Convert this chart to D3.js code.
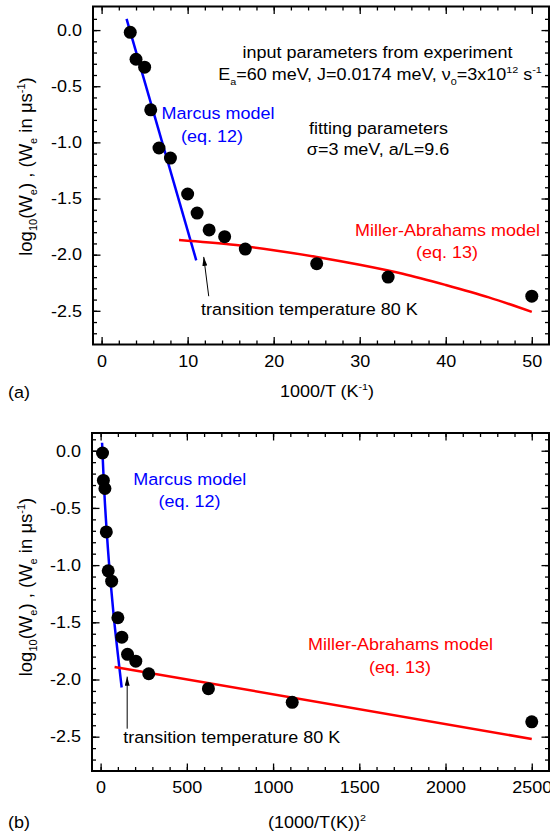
<!DOCTYPE html>
<html>
<head>
<meta charset="utf-8">
<script src="https://cdn.jsdelivr.net/npm/d3@7"></script>
<style>
  body { margin: 0; background: #fff; }
  svg { display: block; }
  text { font-family: 'Liberation Sans', Arial, Helvetica, sans-serif; }
</style>
</head>
<body>
<svg id="chart" width="550" height="833"></svg>
<script>
// values
var invT   = [3.33, 4.0, 5.0, 5.71, 6.67, 8.0, 10.0, 11.1, 12.5, 14.3, 16.7, 25.0, 33.3, 50.0];
var invT2  = [11, 16, 25, 33, 44, 64, 100, 123, 156, 204, 279, 625, 1111, 2500];
var logW   = [-0.02, -0.26, -0.33, -0.71, -1.05, -1.14, -1.46, -1.63, -1.78, -1.84, -1.95, -2.08, -2.20, -2.37];

// model curves, panel (a)
var marcusAx = [2.9, 11.0];
var marcusAy = [0.10, -2.05];
var millerAx = [9, 15, 20, 25, 30, 35, 40, 45, 50];
var millerAy = [-1.87, -1.91, -1.96, -2.02, -2.09, -2.17, -2.27, -2.38, -2.51];

// model curves, panel (b)
var marcusBx = [8.4, 16, 25, 36, 49, 64, 81, 100, 122];
var marcusBy = [0.07, -0.19, -0.46, -0.72, -0.99, -1.25, -1.52, -1.78, -2.07];
var millerBx = [81, 2500];
var millerBy = [-1.89, -2.52];

var yTicks  = [0, -0.5, -1.0, -1.5, -2.0, -2.5];
var xTicksA = [0, 10, 20, 30, 40, 50];
var xTicksB = [0, 500, 1000, 1500, 2000, 2500];

var SX = 1.09, FS = 16.5;   // the original figure is stretched horizontally a bit
var svg = d3.select("#chart");

svg.append("defs").append("marker")
    .attr("id", "arrow")
    .attr("viewBox", "0 0 9 5")
    .attr("refX", 9).attr("refY", 2.5)
    .attr("markerUnits", "userSpaceOnUse")
    .attr("markerWidth", 9).attr("markerHeight", 5)
    .attr("orient", "auto")
  .append("path")
    .attr("d", "M0,0L9,2.5L0,5Z")
    .attr("fill", "#000");

// text with sub/superscripts: parts = [[str, ""|"sub"|"sup"], ...]
function txt(parent, x, y, anchor, color, parts) {
  var size = FS;
  var t = parent.append("text")
      .attr("transform", "translate(" + x + "," + y + ") scale(" + SX + ",1)")
      .attr("text-anchor", anchor)
      .attr("fill", color)
      .attr("font-size", size);
  var shift = 0;
  parts.forEach(function(p) {
    var want = p[1] == "sub" ? size * 0.28 : (p[1] == "sup" ? -size * 0.4 : 0);
    var s = t.append("tspan").text(p[0]).attr("dy", want - shift);
    if (p[1]) s.attr("font-size", size * 0.6);
    shift = want;
  });
  return t;
}

function lineOf(xs, ys) {
  return xs.map(function(d, i) { return [d, ys[i]]; });
}

function drawPanel(o) {
  var x = d3.scaleLinear().domain(o.xDom).range([o.left, o.right]);
  var y = d3.scaleLinear().domain(o.yDom).range([o.bottom, o.top]);
  var g = svg.append("g");

  var yMinor = d3.range(-27, 3).map(function(d) { return d / 10; })
      .filter(function(d) { return y(d) > o.top + 3 && y(d) < o.bottom - 3; });

  function clean(sel) {
    sel.select(".domain").remove();
    sel.attr("font-family", null).attr("font-size", FS);
    sel.selectAll("line").attr("stroke", "#000").attr("stroke-width", 1.3);
  }

  // bottom
  g.append("g").attr("transform", "translate(0," + o.bottom + ")")
      .call(d3.axisBottom(x).tickValues(o.xMinor).tickSize(-4).tickFormat("")).call(clean);
  var bx = g.append("g").attr("transform", "translate(0," + o.bottom + ")")
      .call(d3.axisBottom(x).tickValues(o.xMajor).tickSizeInner(-7.5).tickSizeOuter(0)
        .tickPadding(10.5).tickFormat(d3.format("d"))).call(clean);
  bx.selectAll("text").attr("transform", "scale(" + SX + ",1)").attr("fill", "#000");

  // top
  g.append("g").attr("transform", "translate(0," + o.top + ")")
      .call(d3.axisTop(x).tickValues(o.xMinor).tickSize(-4).tickFormat("")).call(clean);
  g.append("g").attr("transform", "translate(0," + o.top + ")")
      .call(d3.axisTop(x).tickValues(o.xMajor).tickSize(-7.5).tickFormat("")).call(clean);

  // left
  g.append("g").attr("transform", "translate(" + o.left + ",0)")
      .call(d3.axisLeft(y).tickValues(yMinor).tickSize(-4).tickFormat("")).call(clean);
  var ly = g.append("g").attr("transform", "translate(" + o.left + ",0)")
      .call(d3.axisLeft(y).tickValues(yTicks).tickSizeInner(-7.5).tickSizeOuter(0)
        .tickPadding(10).tickFormat(function(d) { return d.toFixed(1); })).call(clean);
  ly.selectAll("text").attr("transform", "scale(" + SX + ",1)").attr("fill", "#000");

  // right
  g.append("g").attr("transform", "translate(" + o.right + ",0)")
      .call(d3.axisRight(y).tickValues(yMinor).tickSize(-4).tickFormat("")).call(clean);
  g.append("g").attr("transform", "translate(" + o.right + ",0)")
      .call(d3.axisRight(y).tickValues(yTicks).tickSize(-7.5).tickFormat("")).call(clean);

  g.append("rect")
      .attr("x", o.left).attr("y", o.top)
      .attr("width", o.right - o.left).attr("height", o.bottom - o.top)
      .attr("fill", "none").attr("stroke", "#000").attr("stroke-width", 2);

  var line = d3.line().curve(d3.curveCatmullRom)
      .x(function(d) { return x(d[0]); }).y(function(d) { return y(d[1]); });

  g.append("path").datum(lineOf(o.marcusX, o.marcusY))
      .attr("d", line).attr("fill", "none").attr("stroke", "#0000ff").attr("stroke-width", 2.5);
  g.append("path").datum(lineOf(o.millerX, o.millerY))
      .attr("d", line).attr("fill", "none").attr("stroke", "#ff0000").attr("stroke-width", 2.5);

  g.selectAll("circle.pt").data(lineOf(o.px, logW)).enter().append("circle")
      .attr("class", "pt")
      .attr("cx", function(d) { return x(d[0]); })
      .attr("cy", function(d) { return y(d[1]); })
      .attr("r", 6.5)
      .attr("fill", "#000");

  g.append("line")
      .attr("x1", x(o.arrow[2])).attr("y1", y(o.arrow[3]))
      .attr("x2", x(o.arrow[0])).attr("y2", y(o.arrow[1]))
      .attr("stroke", "#000").attr("stroke-width", 1)
      .attr("marker-end", "url(#arrow)");

  // y label
  var yl = g.append("text")
      .attr("transform", "translate(32," + o.yLabelY + ") rotate(-90)")
      .attr("text-anchor", "middle").attr("font-size", 18.5).attr("fill", "#000");
  var sh = 0;
  [["log", ""], ["10", "sub"], ["(W", ""], ["e", "sub"], [") , (W", ""], ["e", "sub"], [" in \u03bcs", ""], ["-1", "sup"], [")", ""]]
    .forEach(function(p) {
      var want = p[1] == "sub" ? 5 : (p[1] == "sup" ? -7 : 0);
      var s = yl.append("tspan").text(p[0]).attr("dy", want - sh);
      if (p[1]) s.attr("font-size", 11);
      sh = want;
    });

  return g;
}

var ga = drawPanel({
  xDom: [-1, 52], yDom: [-2.8, 0.21],
  left: 93, right: 549, top: 6.5, bottom: 344.5,
  xMajor: xTicksA, xMinor: d3.range(0, 52, 2),
  px: invT,
  marcusX: marcusAx, marcusY: marcusAy,
  millerX: millerAx, millerY: millerAy,
  arrow: [11.87, -2.02, 12.45, -2.37],
  yLabelY: 166.5
});

var gb = drawPanel({
  xDom: [-50, 2600], yDom: [-2.8, 0.155],
  left: 92, right: 549, top: 433, bottom: 771,
  xMajor: xTicksB, xMinor: d3.range(0, 2600, 100),
  px: invT2,
  marcusX: marcusBx, marcusY: marcusBy,
  millerX: millerBx, millerY: millerBy,
  arrow: [154, -1.975, 154, -2.43],
  yLabelY: 587
});

// panel (a) annotations
txt(ga, 377.5, 58, "middle", "#000", [["input parameters from experiment", ""]]);
txt(ga, 380, 80, "middle", "#000", [["E", ""], ["a", "sub"], ["=60 meV, J=0.0174 meV, \u03bd", ""], ["0", "sub"],
    ["=3x10", ""], ["12", "sup"], [" s", ""], ["-1", "sup"]]);
txt(ga, 378.5, 134, "middle", "#000", [["fitting parameters", ""]]);
txt(ga, 378, 155, "middle", "#000", [["\u03c3=3 meV, a/L=9.6", ""]]);
txt(ga, 218, 119, "middle", "#0000ff", [["Marcus model", ""]]);
txt(ga, 212, 142, "middle", "#0000ff", [["(eq. 12)", ""]]);
txt(ga, 447.5, 236, "middle", "#ff0000", [["Miller-Abrahams model", ""]]);
txt(ga, 447, 258, "middle", "#ff0000", [["(eq. 13)", ""]]);
txt(ga, 201, 315, "start", "#000", [["transition temperature 80 K", ""]]);
txt(ga, 8, 398, "start", "#000", [["(a)", ""]]);
txt(ga, 327, 397, "middle", "#000", [["1000/T (K", ""], ["-1", "sup"], [")", ""]]);

// panel (b) annotations
txt(gb, 189.7, 485, "middle", "#0000ff", [["Marcus model", ""]]);
txt(gb, 189.4, 507, "middle", "#0000ff", [["(eq. 12)", ""]]);
txt(gb, 400.5, 650, "middle", "#ff0000", [["Miller-Abrahams model", ""]]);
txt(gb, 400, 673, "middle", "#ff0000", [["(eq. 13)", ""]]);
txt(gb, 123.3, 743, "start", "#000", [["transition temperature 80 K", ""]]);
txt(gb, 8, 828, "start", "#000", [["(b)", ""]]);
txt(gb, 317, 828, "middle", "#000", [["(1000/T(K))", ""], ["2", "sup"]]);
</script>
</body>
</html>
